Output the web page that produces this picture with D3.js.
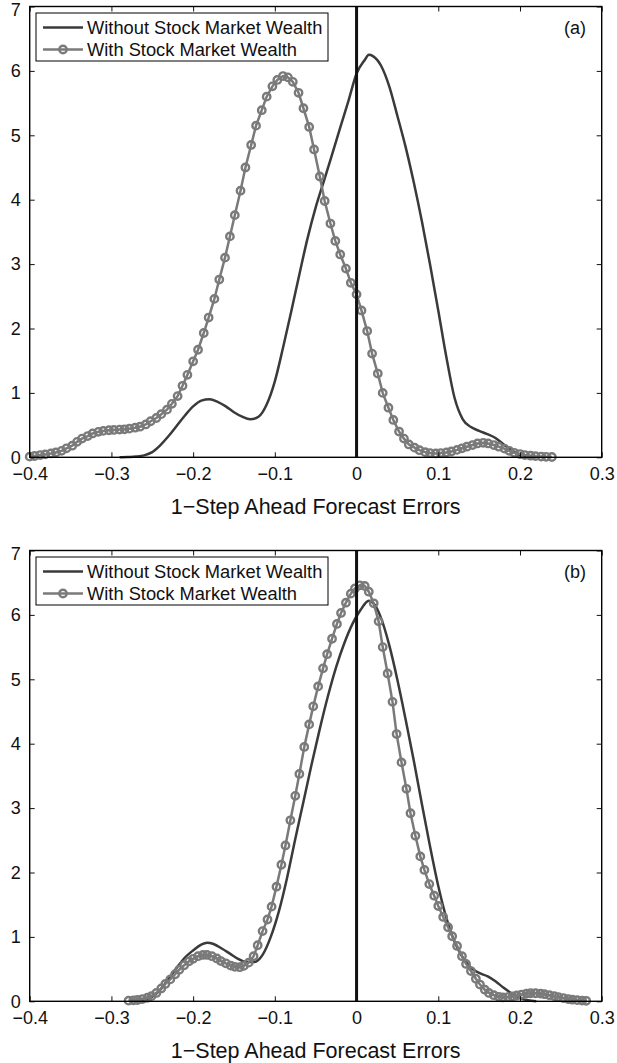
<!DOCTYPE html>
<html>
<head>
<meta charset="utf-8">
<script src="https://cdn.jsdelivr.net/npm/d3@7"></script>
<style>
  body { margin: 0; background: #fff; }
  svg { display: block; font-family: "Liberation Sans", Arial, Helvetica, sans-serif; }
</style>
</head>
<body>
<div id="chart"></div>
<script>
const seriesNames = ["Without Stock Market Wealth", "With Stock Market Wealth"];
const panelLabels = ["(a)", "(b)"];
const xLabel = "1\u2212Step Ahead Forecast Errors";
const xTicks = [-0.4, -0.3, -0.2, -0.1, 0, 0.1, 0.2, 0.3];
const yTicks = [0, 1, 2, 3, 4, 5, 6, 7];

// panel (a), without stock market wealth (solid line)
const withoutXA = [-0.29, -0.28, -0.27, -0.26, -0.25, -0.24, -0.23, -0.22, -0.21,
  -0.20, -0.19, -0.18, -0.17, -0.16, -0.15, -0.14, -0.13, -0.12, -0.11,
  -0.10, -0.09, -0.08, -0.07, -0.06, -0.05, -0.04, -0.03, -0.02, -0.01,
  0.00, 0.01, 0.015, 0.02, 0.03, 0.04, 0.05, 0.06, 0.07, 0.08, 0.09,
  0.10, 0.11, 0.12, 0.13, 0.14, 0.15, 0.16, 0.17, 0.18, 0.19, 0.20, 0.21, 0.22];
const withoutYA = [0, 0.005, 0.012, 0.03, 0.08, 0.19, 0.33, 0.49, 0.65,
  0.79, 0.88, 0.90, 0.86, 0.79, 0.70, 0.63, 0.59, 0.63, 0.82,
  1.18, 1.70, 2.26, 2.84, 3.40, 3.88, 4.29, 4.70, 5.12, 5.53,
  5.96, 6.17, 6.25, 6.23, 6.08, 5.76, 5.30, 4.82, 4.27, 3.66, 2.99,
  2.28, 1.55, 0.92, 0.59, 0.47, 0.41, 0.36, 0.30, 0.20, 0.11, 0.03, 0.005, 0];

// panel (a), with stock market wealth (line with circles)
const withXA = [-0.400, -0.394, -0.387, -0.381, -0.374, -0.368, -0.361, -0.355, -0.348, -0.342,
  -0.336, -0.329, -0.323, -0.316, -0.310, -0.303, -0.297, -0.290, -0.284, -0.278,
  -0.271, -0.265, -0.258, -0.252, -0.245, -0.239, -0.232, -0.226, -0.219, -0.213,
  -0.207, -0.200, -0.194, -0.187, -0.181, -0.174, -0.168, -0.161, -0.155, -0.149,
  -0.142, -0.136, -0.129, -0.123, -0.116, -0.110, -0.103, -0.097, -0.090, -0.084,
  -0.078, -0.071, -0.065, -0.058, -0.052, -0.045, -0.039, -0.032, -0.026, -0.020,
  -0.013, -0.007, 0.000, 0.006, 0.013, 0.019, 0.026, 0.032, 0.039, 0.045,
  0.052, 0.058, 0.064, 0.071, 0.077, 0.084, 0.090, 0.097, 0.103, 0.110,
  0.116, 0.123, 0.129, 0.135, 0.142, 0.148, 0.155, 0.161, 0.168, 0.174,
  0.181, 0.187, 0.193, 0.200, 0.206, 0.213, 0.219, 0.226, 0.232, 0.239];
const withYA = [0.01, 0.02, 0.035, 0.045, 0.06, 0.075, 0.10, 0.14, 0.18, 0.24,
  0.29, 0.33, 0.37, 0.395, 0.41, 0.42, 0.425, 0.43, 0.435, 0.445,
  0.46, 0.475, 0.51, 0.56, 0.61, 0.67, 0.74, 0.83, 0.95, 1.11,
  1.28, 1.49, 1.67, 1.93, 2.17, 2.46, 2.76, 3.10, 3.43, 3.76,
  4.14, 4.50, 4.85, 5.15, 5.39, 5.60, 5.76, 5.86, 5.92, 5.90,
  5.83, 5.66, 5.42, 5.13, 4.78, 4.36, 3.98, 3.63, 3.36, 3.15,
  2.93, 2.71, 2.53, 2.28, 1.96, 1.61, 1.30, 1.00, 0.77, 0.58,
  0.40, 0.29, 0.20, 0.15, 0.11, 0.08, 0.065, 0.06, 0.065, 0.075,
  0.09, 0.115, 0.14, 0.165, 0.19, 0.215, 0.225, 0.215, 0.19, 0.165,
  0.135, 0.10, 0.07, 0.05, 0.035, 0.025, 0.018, 0.012, 0.008, 0.005];

// panel (b), without stock market wealth
const withoutXB = [-0.27, -0.26, -0.25, -0.24, -0.23, -0.22, -0.21, -0.20, -0.19, -0.183,
  -0.175, -0.165, -0.155, -0.145, -0.135, -0.125, -0.115, -0.105, -0.095, -0.085,
  -0.075, -0.065, -0.055, -0.045, -0.035, -0.025, -0.015, -0.005, 0.005, 0.015,
  0.022, 0.03, 0.04, 0.05, 0.06, 0.07, 0.08, 0.09, 0.10, 0.11,
  0.12, 0.13, 0.14, 0.15, 0.16, 0.17, 0.18, 0.19, 0.20, 0.21, 0.22];
const withoutYB = [0, 0.01, 0.07, 0.18, 0.35, 0.52, 0.68, 0.79, 0.88, 0.91,
  0.89, 0.82, 0.74, 0.66, 0.61, 0.61, 0.72, 1.00, 1.40, 1.92,
  2.52, 3.10, 3.68, 4.23, 4.74, 5.19, 5.56, 5.86, 6.08, 6.22,
  6.16, 5.95, 5.53, 4.99, 4.38, 3.74, 3.06, 2.40, 1.79, 1.29,
  0.92, 0.68, 0.52, 0.44, 0.39, 0.31, 0.21, 0.12, 0.05, 0.015, 0];

// panel (b), with stock market wealth
const withXB = [-0.279, -0.273, -0.268, -0.262, -0.256, -0.251, -0.245, -0.239, -0.234, -0.228,
  -0.222, -0.217, -0.211, -0.205, -0.200, -0.194, -0.188, -0.183, -0.177, -0.171,
  -0.166, -0.160, -0.154, -0.149, -0.143, -0.138, -0.132, -0.126, -0.121, -0.115,
  -0.109, -0.104, -0.098, -0.092, -0.087, -0.081, -0.075, -0.070, -0.064, -0.058,
  -0.053, -0.047, -0.041, -0.036, -0.030, -0.024, -0.019, -0.013, -0.007, -0.002,
  0.004, 0.010, 0.015, 0.021, 0.027, 0.032, 0.038, 0.044, 0.049, 0.055,
  0.061, 0.066, 0.072, 0.078, 0.083, 0.089, 0.095, 0.100, 0.106, 0.112,
  0.117, 0.123, 0.129, 0.134, 0.140, 0.146, 0.151, 0.157, 0.162, 0.168,
  0.174, 0.179, 0.185, 0.191, 0.196, 0.202, 0.208, 0.213, 0.219, 0.225,
  0.230, 0.236, 0.242, 0.247, 0.253, 0.259, 0.264, 0.270, 0.276, 0.281];
const withYB = [0.01, 0.015, 0.02, 0.035, 0.055, 0.08, 0.13, 0.20, 0.27, 0.34,
  0.42, 0.49, 0.56, 0.62, 0.66, 0.70, 0.72, 0.72, 0.70, 0.665,
  0.625, 0.59, 0.555, 0.535, 0.53, 0.55, 0.60, 0.70, 0.87, 1.09,
  1.27, 1.47, 1.78, 2.12, 2.42, 2.81, 3.19, 3.53, 3.95, 4.30,
  4.58, 4.89, 5.17, 5.39, 5.63, 5.86, 6.03, 6.19, 6.33, 6.41,
  6.46, 6.45, 6.36, 6.18, 5.90, 5.50, 5.09, 4.65, 4.15, 3.71,
  3.30, 2.92, 2.57, 2.25, 2.04, 1.82, 1.64, 1.48, 1.31, 1.15,
  1.01, 0.86, 0.70, 0.58, 0.47, 0.35, 0.26, 0.18, 0.13, 0.095,
  0.07, 0.06, 0.065, 0.075, 0.09, 0.105, 0.12, 0.125, 0.125, 0.12,
  0.11, 0.095, 0.08, 0.065, 0.05, 0.035, 0.025, 0.018, 0.012, 0.008];

const width = 617;
const height = 1063;
const darkColor = "#3a3a3a";
const grayColor = "#7a7a7a";
const textColor = "#111";

document.addEventListener('DOMContentLoaded', function() {
  const svg = d3.select("#chart")
    .append("svg")
    .attr("width", width)
    .attr("height", height);

  drawPanel(svg, { top: 6.5, bottom: 457.3, label: panelLabels[0],
    withoutX: withoutXA, withoutY: withoutYA, withX: withXA, withY: withYA });
  drawPanel(svg, { top: 550.5, bottom: 1001.3, label: panelLabels[1],
    withoutX: withoutXB, withoutY: withoutYB, withX: withXB, withY: withYB });
});

function drawPanel(svg, p) {
  const left = 29.7;
  const right = 601.7;

  const x = d3.scaleLinear().domain([-0.4, 0.3]).range([left, right]);
  const y = d3.scaleLinear().domain([0, 7]).range([p.bottom, p.top]);

  const g = svg.append("g");

  const withoutPts = p.withoutX.map((d, i) => [d, p.withoutY[i]]);
  const withPts = p.withX.map((d, i) => [d, p.withY[i]]);

  const smooth = d3.line()
    .x(d => x(d[0]))
    .y(d => y(d[1]))
    .curve(d3.curveMonotoneX);

  const straight = d3.line()
    .x(d => x(d[0]))
    .y(d => y(d[1]));

  // solid curve
  g.append("path")
    .datum(withoutPts)
    .attr("fill", "none")
    .attr("stroke", darkColor)
    .attr("stroke-width", 2.5)
    .attr("d", smooth);

  // gray curve with circle markers
  g.append("path")
    .datum(withPts)
    .attr("fill", "none")
    .attr("stroke", grayColor)
    .attr("stroke-width", 2.5)
    .attr("d", straight);

  g.append("g")
    .selectAll("circle")
    .data(withPts)
    .enter().append("circle")
      .attr("cx", d => x(d[0]))
      .attr("cy", d => y(d[1]))
      .attr("r", 3.7)
      .attr("fill", "none")
      .attr("stroke", grayColor)
      .attr("stroke-width", 2.4);

  // vertical line at zero
  g.append("line")
    .attr("x1", x(0)).attr("x2", x(0))
    .attr("y1", p.top).attr("y2", p.bottom)
    .attr("stroke", "#111")
    .attr("stroke-width", 3);

  const fmt = d => d === 0 ? "0" : d3.format(".1f")(d);

  const axes = [
    { gen: d3.axisBottom(x).tickValues(xTicks).tickFormat(fmt).tickPadding(10), t: `translate(0,${p.bottom})` },
    { gen: d3.axisTop(x).tickValues(xTicks).tickFormat(""), t: `translate(0,${p.top})` },
    { gen: d3.axisLeft(y).tickValues(yTicks).tickFormat(d3.format("d")).tickPadding(9), t: `translate(${left},0)` },
    { gen: d3.axisRight(y).tickValues(yTicks).tickFormat(""), t: `translate(${right},0)` }
  ];

  axes.forEach(a => {
    const ax = g.append("g")
      .attr("transform", a.t)
      .call(a.gen.tickSize(-5));
    ax.select(".domain").remove();
    ax.attr("font-size", 18)
      .attr("font-family", null)
      .style("color", textColor);
  });

  // keep the top "7" label inside the picture, as in the original
  g.selectAll(".tick text")
    .filter(d => d === 7)
    .attr("dy", "0.5em");

  // box
  g.append("rect")
    .attr("x", left)
    .attr("y", p.top)
    .attr("width", right - left)
    .attr("height", p.bottom - p.top)
    .attr("fill", "none")
    .attr("stroke", "#000")
    .attr("stroke-width", 1.4);

  g.append("text")
    .attr("x", (left + right) / 2)
    .attr("y", p.bottom + 57)
    .attr("text-anchor", "middle")
    .attr("font-size", 21.5)
    .attr("fill", textColor)
    .text(xLabel);

  g.append("text")
    .attr("x", 575)
    .attr("y", p.top + 21)
    .attr("dy", "0.35em")
    .attr("text-anchor", "middle")
    .attr("font-size", 18)
    .attr("fill", textColor)
    .text(p.label);

  // legend
  const legend = g.append("g")
    .attr("transform", `translate(36,${p.top + 6.5})`);

  legend.append("rect")
    .attr("width", 292)
    .attr("height", 48)
    .attr("fill", "#fff")
    .attr("stroke", "#000")
    .attr("stroke-width", 1);

  const rows = legend.selectAll("g.row")
    .data(seriesNames)
    .enter().append("g")
      .attr("class", "row")
      .attr("transform", (d, i) => `translate(0,${14.5 + i * 22})`);

  rows.append("line")
    .attr("x1", 7).attr("x2", 47)
    .attr("stroke", (d, i) => i === 0 ? darkColor : grayColor)
    .attr("stroke-width", 2.5);

  rows.filter((d, i) => i === 1)
    .append("circle")
      .attr("cx", 27)
      .attr("r", 3.7)
      .attr("fill", "none")
      .attr("stroke", grayColor)
      .attr("stroke-width", 2.4);

  rows.append("text")
    .attr("x", 51)
    .attr("dy", "0.35em")
    .attr("font-size", 18.3)
    .attr("fill", textColor)
    .text(d => d);
}
</script>
</body>
</html>
